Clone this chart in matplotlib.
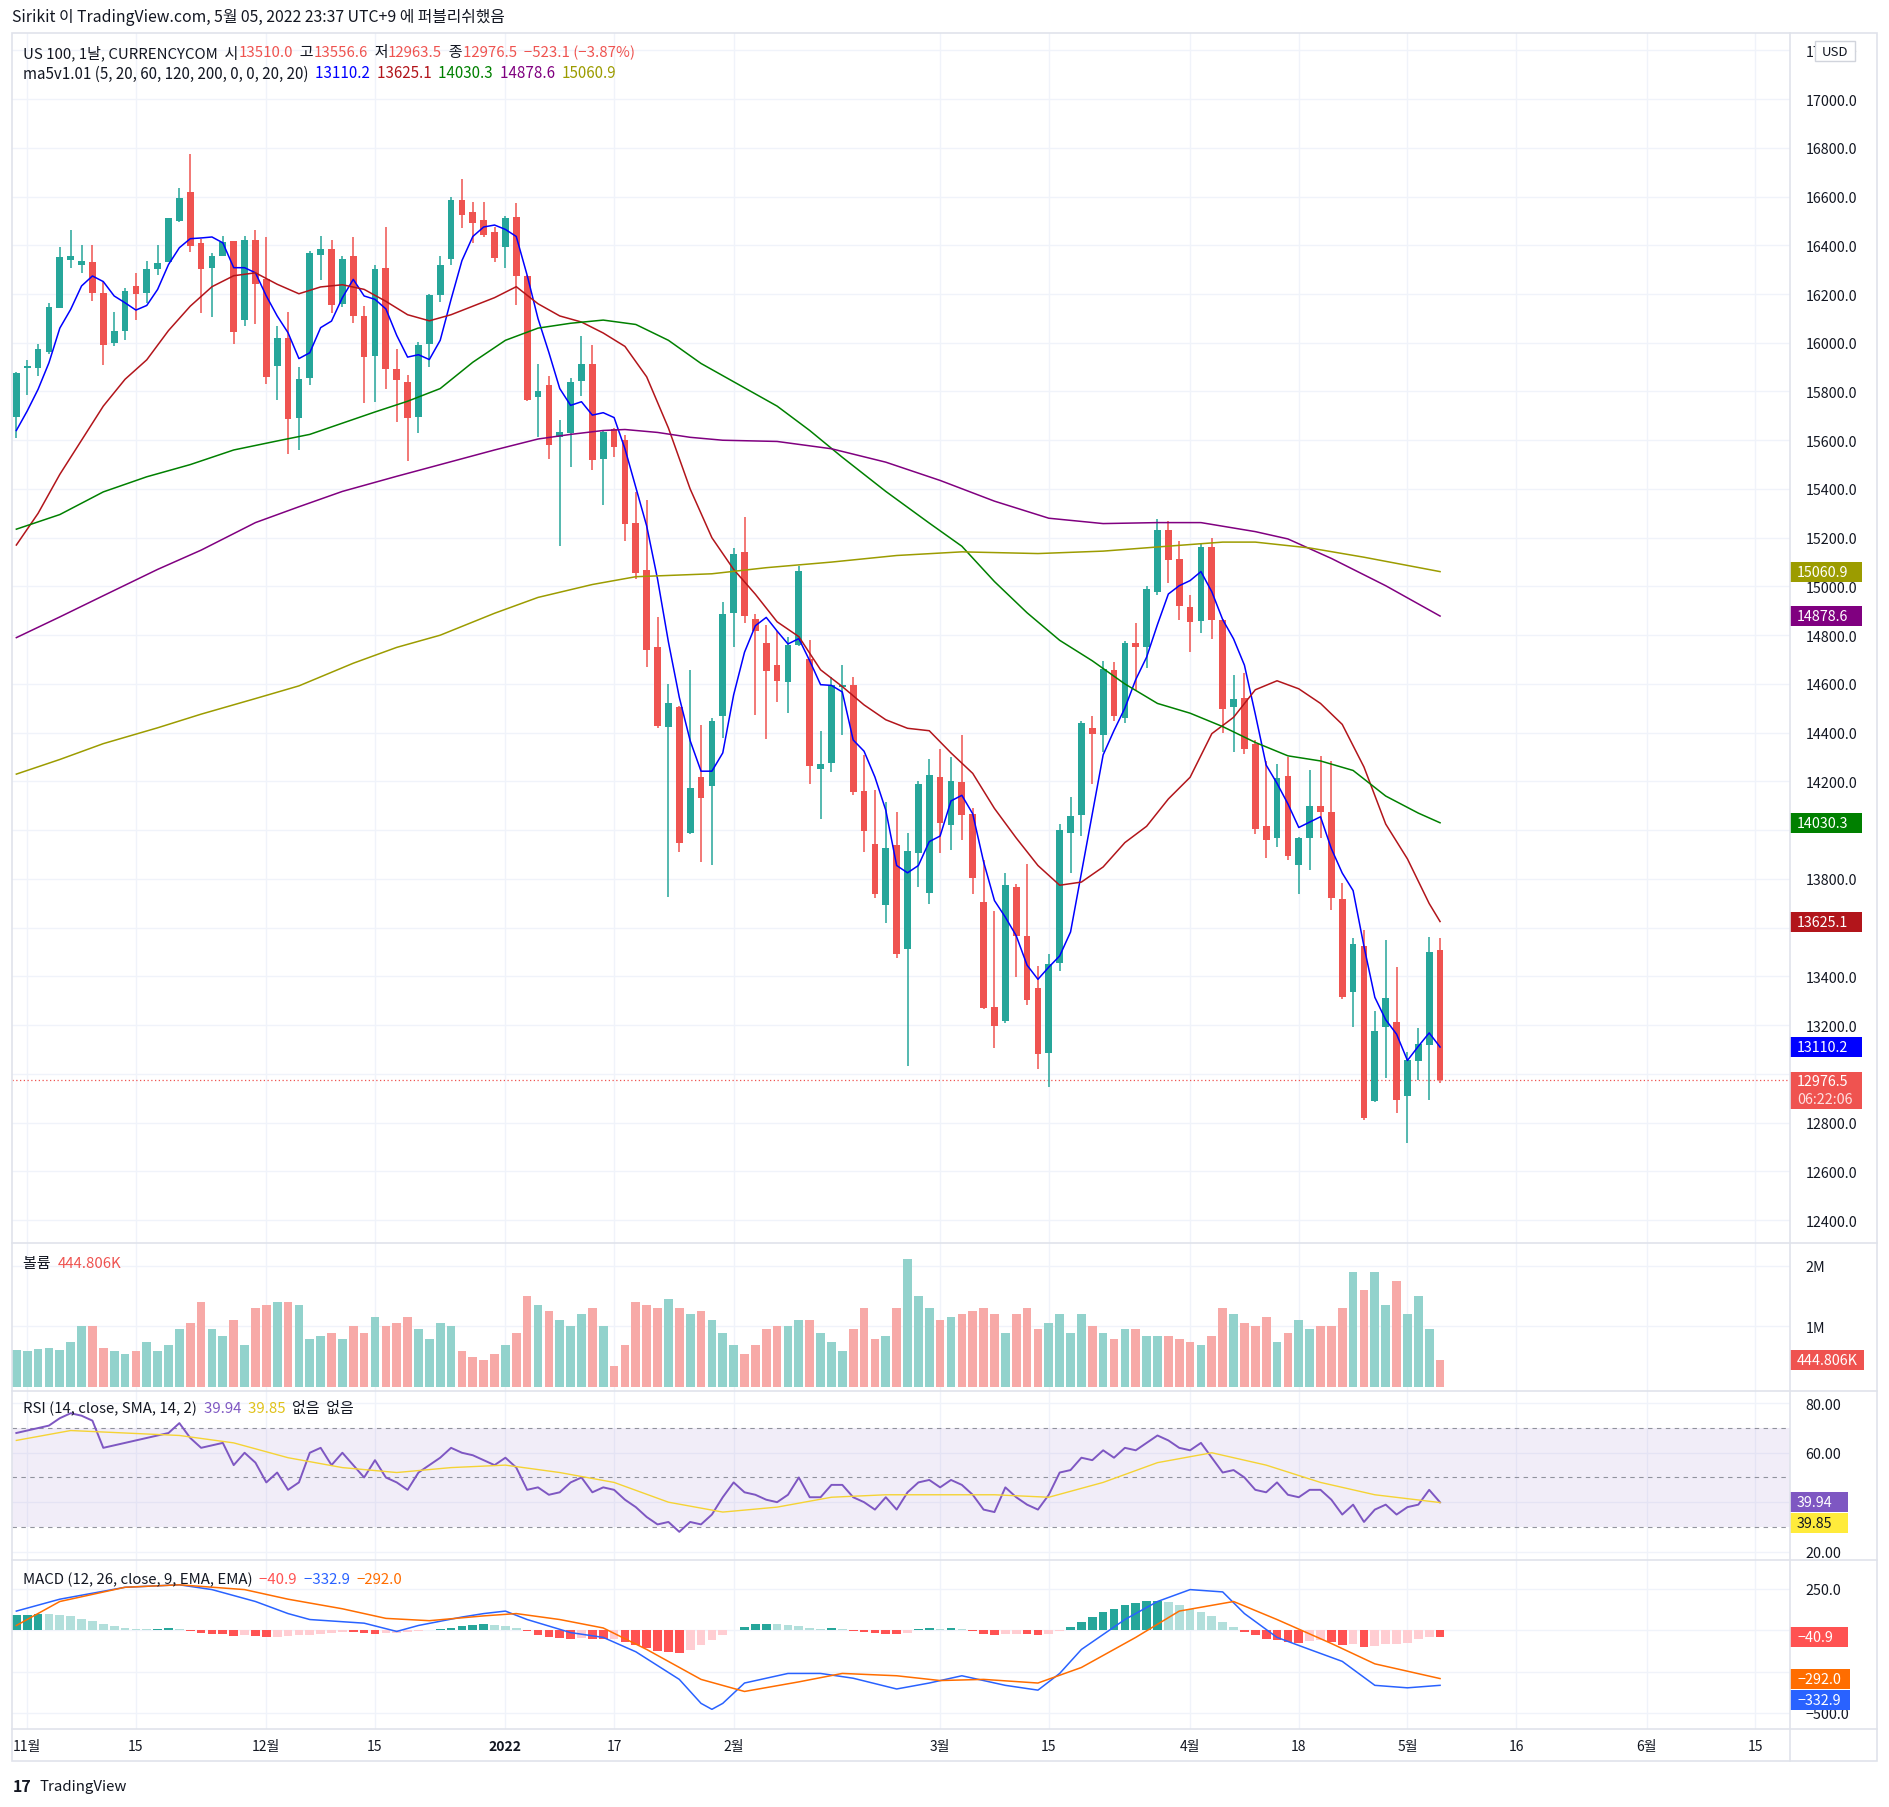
import matplotlib.pyplot as plt
import numpy as np
from matplotlib.patches import Rectangle

plt.rcParams['font.family'] = ['Noto Sans CJK KR', 'DejaVu Sans']

W, H = 1890, 1808
UP, DOWN = '#26a69a', '#ef5350'
VOL_UP, VOL_DOWN = '#92d2cc', '#f7a9a7'
TXT = '#131722'
GRID = '#f0f3fa'
BORDER = '#e0e3eb'

# daily candles, index 0 = 2021-10-29 ... 131 = 2022-05-05
opens = [15695, 15896, 15896, 15962, 16142, 16339, 16319, 16330, 16203, 15999,
         16048, 16231, 16204, 16302, 16330, 16498, 16617, 16408, 16305, 16358,
         16416, 16093, 16420, 16260, 15905, 16018, 15691, 15855, 16360, 16383,
         16159, 16354, 16108, 15946, 16305, 15891, 15838, 15695, 15994, 16196,
         16345, 16584, 16537, 16503, 16453, 16394, 16515, 16275, 15778, 15826,
         15614, 15630, 15842, 15911, 15525, 15648, 15600, 15262, 15066, 14751,
         14422, 14507, 13988, 14218, 14182, 14470, 14893, 15141, 14865, 14767,
         14677, 14609, 14759, 14702, 14252, 14277, 14586, 14597, 14161, 13944,
         13691, 13940, 13511, 13905, 13741, 14218, 14023, 14197, 14067, 13706,
         13276, 13215, 13767, 13567, 13352, 13087, 13453, 13990, 14064, 14421,
         14391, 14657, 14461, 14770, 14750, 14976, 15233, 15111, 14917, 14859,
         15163, 14861, 14506, 14541, 14352, 14016, 13966, 14222, 13859, 13966,
         14098, 14075, 13719, 13334, 13525, 12888, 13194, 13212, 12909, 13053,
         13118, 13510.0]
highs = [15880, 15929, 15993, 16162, 16391, 16461, 16402, 16402, 16249, 16125,
         16223, 16285, 16334, 16402, 16513, 16633, 16773, 16427, 16369, 16440,
         16416, 16440, 16461, 16432, 16067, 16126, 15899, 16375, 16436, 16420,
         16354, 16432, 16151, 16317, 16475, 15976, 15867, 16004, 16200, 16356,
         16598, 16673, 16578, 16578, 16477, 16521, 16574, 16280, 15911, 15865,
         15681, 15854, 16026, 15992, 15640, 15652, 15622, 15386, 15353, 14875,
         14600, 14510, 14658, 14432, 14460, 14937, 15157, 15283, 14885, 14841,
         14817, 14791, 15082, 14779, 14406, 14627, 14677, 14627, 14309, 14165,
         14115, 14073, 13988, 14203, 14294, 14333, 14300, 14392, 14090, 13877,
         13670, 13824, 13779, 13862, 13444, 13491, 14027, 14137, 14447, 14470,
         14696, 14688, 14777, 14849, 15003, 15275, 15270, 15187, 14966, 15178,
         15200, 14865, 14635, 14643, 14369, 14284, 14270, 14299, 13970, 14245,
         14304, 14285, 13784, 13556, 13590, 13259, 13550, 13439, 13088, 13189,
         13560, 13556.6]
lows = [15611, 15784, 15864, 15952, 16142, 16306, 16287, 16171, 15909, 15987,
        16010, 16093, 16164, 16276, 16330, 16494, 16372, 16121, 16106, 16358,
        15995, 16069, 16077, 15831, 15765, 15545, 15560, 15827, 16257, 16122,
        16147, 16081, 15753, 15757, 15810, 15673, 15515, 15628, 15901, 16166,
        16321, 16471, 16408, 16432, 16331, 16307, 16155, 15760, 15614, 15525,
        15168, 15491, 15780, 15479, 15333, 15531, 15188, 15030, 14668, 14420,
        13727, 13911, 13985, 13870, 13856, 14380, 14753, 14848, 14473, 14376,
        14526, 14480, 14756, 14191, 14044, 14237, 14391, 14143, 13911, 13723,
        13621, 13476, 13032, 13767, 13696, 13908, 13920, 13961, 13737, 13268,
        13105, 13209, 13397, 13282, 13021, 12946, 13424, 13824, 13976, 14191,
        14321, 14448, 14441, 14576, 14667, 14964, 15016, 14862, 14732, 14807,
        14784, 14399, 14322, 14314, 13986, 13886, 13929, 13879, 13737, 13836,
        13966, 13673, 13306, 13192, 12811, 12885, 12981, 12841, 12717, 12975,
        12893, 12963.5]
closes = [15877, 15904, 15973, 16145, 16350, 16354, 16334, 16204, 15991, 16047,
          16211, 16200, 16301, 16326, 16510, 16592, 16399, 16302, 16358, 16412,
          16044, 16420, 16241, 15859, 16018, 15687, 15850, 16367, 16383, 16155,
          16342, 16110, 15942, 16301, 15892, 15846, 15693, 15992, 16196, 16319,
          16584, 16525, 16493, 16444, 16347, 16511, 16273, 15766, 15804, 15582,
          15632, 15838, 15911, 15517, 15634, 15574, 15256, 15054, 14741, 14426,
          14523, 13947, 14171, 14131, 14448, 14885, 15133, 14879, 14818, 14653,
          14612, 14761, 15065, 14265, 14271, 14596, 14597, 14158, 13997, 13737,
          13927, 13491, 13915, 14191, 14226, 14030, 14202, 14064, 13802, 13270,
          13196, 13776, 13567, 13302, 13082, 13449, 14002, 14058, 14441, 14396,
          14660, 14469, 14770, 14752, 14988, 15232, 15108, 14919, 14854, 15163,
          14862, 14498, 14538, 14331, 14003, 13958, 14214, 13896, 13966, 14098,
          14073, 13720, 13317, 13533, 12819, 13177, 13311, 12894, 13058, 13122,
          13500, 12976.5]

# volume in millions
volume_m = [0.62, 0.60, 0.63, 0.65, 0.62, 0.75, 1.00, 1.00, 0.65, 0.60,
            0.55, 0.60, 0.75, 0.60, 0.70, 0.95, 1.05, 1.40, 0.95, 0.85,
            1.10, 0.70, 1.30, 1.35, 1.40, 1.40, 1.35, 0.80, 0.85, 0.90,
            0.80, 1.00, 0.90, 1.15, 1.00, 1.05, 1.15, 0.95, 0.80, 1.05,
            1.00, 0.60, 0.50, 0.45, 0.55, 0.70, 0.90, 1.50, 1.35, 1.25,
            1.10, 1.00, 1.20, 1.30, 1.00, 0.35, 0.70, 1.40, 1.35, 1.30,
            1.45, 1.30, 1.20, 1.25, 1.10, 0.90, 0.70, 0.55, 0.70, 0.95,
            1.00, 1.00, 1.10, 1.10, 0.90, 0.75, 0.60, 0.95, 1.30, 0.80,
            0.85, 1.30, 2.10, 1.50, 1.30, 1.10, 1.15, 1.20, 1.25, 1.30,
            1.20, 0.90, 1.20, 1.30, 0.95, 1.05, 1.20, 0.90, 1.20, 1.00,
            0.90, 0.80, 0.95, 0.95, 0.85, 0.85, 0.85, 0.80, 0.75, 0.70,
            0.85, 1.30, 1.20, 1.05, 1.00, 1.15, 0.75, 0.90, 1.10, 0.95,
            1.00, 1.00, 1.30, 1.90, 1.60, 1.90, 1.35, 1.75, 1.20, 1.50,
            0.95, 0.445]

ma5 = [15640, 15720, 15809, 15918, 16060, 16137, 16233, 16274, 16251, 16192,
       16164, 16134, 16153, 16219, 16321, 16390, 16427, 16430, 16434, 16410,
       16308, 16308, 16287, 16192, 16110, 16041, 15935, 15959, 16062, 16089,
       16185, 16260, 16192, 16178, 16139, 16030, 15941, 15951, 15931, 16010,
       16178, 16337, 16436, 16475, 16483, 16465, 16436, 16277, 16099, 15960,
       15812, 15743, 15758, 15703, 15713, 15693, 15565, 15406, 15248, 15030,
       14772, 14545, 14367, 14242, 14242, 14317, 14555, 14730, 14839, 14873,
       14817, 14764, 14786, 14695, 14597, 14594, 14567, 14370, 14324, 14218,
       14082, 13855, 13825, 13855, 13953, 13976, 14120, 14143, 14067, 13870,
       13711, 13643, 13567, 13446, 13388, 13438, 13484, 13582, 13825, 14067,
       14309, 14409, 14501, 14618, 14710, 14844, 14969, 15003, 15024, 15061,
       14978, 14864, 14785, 14677, 14476, 14267, 14192, 14108, 14011, 14033,
       14055, 13924, 13824, 13752, 13523, 13314, 13222, 13163, 13055, 13113,
       13168, 13110.2]

ma20_idx = [0, 2, 4, 6, 8, 10, 12, 14, 16, 18, 20, 22, 24, 26, 28, 30, 32, 34,
            36, 38, 40, 42, 44, 46, 48, 50, 52, 54, 56, 58, 60, 62, 64, 66, 68,
            70, 72, 74, 76, 78, 80, 82, 84, 86, 88, 90, 92, 94, 96, 98, 100,
            102, 104, 106, 108, 110, 112, 114, 116, 118, 120, 122, 124, 126,
            128, 130, 131]
ma20_val = [15170, 15300, 15460, 15600, 15740, 15850, 15930, 16050, 16150,
            16230, 16275, 16287, 16240, 16201, 16229, 16238, 16219, 16170,
            16115, 16090, 16115, 16150, 16185, 16230, 16160, 16110, 16085,
            16040, 15985, 15860, 15650, 15400, 15200, 15070, 14968, 14855,
            14794, 14658, 14589, 14514, 14453, 14418, 14408, 14317, 14233,
            14089, 13968, 13855, 13774, 13787, 13849, 13949, 14016, 14128,
            14217, 14396, 14463, 14576, 14613, 14580, 14520, 14434, 14259,
            14025, 13882, 13699, 13625.1]

ma60_idx = [0, 4, 8, 12, 16, 20, 24, 27, 30, 33, 36, 39, 42, 45, 48, 51, 54,
            57, 60, 63, 66, 70, 73, 76, 80, 84, 87, 90, 93, 96, 99, 102, 105,
            108, 111, 114, 117, 120, 123, 126, 129, 131]
ma60_val = [15235, 15295, 15388, 15450, 15500, 15560, 15597, 15624, 15670,
            15716, 15760, 15812, 15920, 16010, 16060, 16080, 16093, 16075,
            16010, 15915, 15840, 15740, 15640, 15530, 15390, 15260, 15165,
            15020, 14892, 14779, 14695, 14600, 14520, 14480, 14425, 14360,
            14305, 14284, 14245, 14140, 14070, 14030.3]

ma120_idx = [0, 4, 8, 13, 17, 22, 26, 30, 35, 39, 44, 48, 51, 54, 56, 59, 62,
             65, 70, 75, 80, 85, 90, 95, 100, 105, 109, 114, 117, 121, 126, 131]
ma120_val = [14790, 14875, 14962, 15070, 15149, 15262, 15327, 15390, 15452,
             15500, 15560, 15605, 15624, 15640, 15644, 15632, 15612, 15600,
             15595, 15565, 15510, 15435, 15350, 15280, 15258, 15262, 15262,
             15225, 15195, 15115, 15003, 14878.6]

ma200_idx = [0, 4, 8, 13, 17, 22, 26, 31, 35, 39, 44, 48, 53, 57, 64, 69, 75,
             81, 87, 94, 100, 105, 111, 114, 119, 124, 131]
ma200_val = [14230, 14290, 14355, 14420, 14476, 14540, 14592, 14685, 14750,
             14800, 14890, 14955, 15008, 15040, 15052, 15077, 15100, 15127,
             15142, 15135, 15145, 15162, 15182, 15182, 15158, 15120, 15060.9]

rsi_idx = list(range(132))
rsi_val = [68, 69, 70, 71, 74, 76, 75, 73, 62, 63, 64, 65, 66, 67, 68, 72, 66,
           62, 63, 64, 55, 60, 56, 48, 52, 45, 48, 60, 62, 55, 60, 55, 50, 57,
           50, 48, 45, 52, 55, 58, 62, 60, 59, 57, 55, 58, 54, 45, 46, 43, 44,
           48, 50, 44, 46, 45, 41, 38, 34, 31, 32, 28, 32, 31, 35, 42, 48, 44,
           43, 41, 40, 43, 50, 42, 42, 47, 47, 42, 40, 37, 42, 37, 44, 48, 49,
           46, 49, 47, 43, 37, 36, 46, 42, 39, 37, 43, 52, 53, 58, 57, 61, 58,
           62, 61, 64, 67, 65, 62, 61, 64, 58, 52, 53, 50, 45, 44, 48, 43, 42,
           45, 45, 41, 35, 39, 32, 37, 39, 35, 38, 39, 45, 39.94]
rsi_ma_idx = [0, 5, 10, 15, 20, 25, 30, 35, 40, 45, 50, 55, 60, 65, 70, 75,
              80, 85, 90, 95, 100, 105, 110, 115, 120, 125, 131]
rsi_ma_val = [65, 69, 68, 67, 64, 58, 54, 52, 54, 55, 52, 48, 40, 36, 38, 42,
              43, 43, 43, 42, 48, 56, 60, 55, 48, 43, 39.85]

macd_idx = [0, 4, 10, 15, 18, 22, 25, 27, 32, 35, 37, 41, 43, 45, 47, 51, 54,
            57, 61, 63, 64, 65, 67, 71, 74, 77, 81, 84, 87, 91, 94, 96, 98,
            102, 105, 108, 111, 113, 116, 119, 122, 125, 128, 131]
macd_val = [116, 188, 260, 275, 246, 174, 101, 65, 43, -7, 29, 80, 101, 116,
            65, -14, -43, -130, -297, -442, -478, -442, -319, -261, -261,
            -290, -355, -319, -275, -333, -362, -261, -116, 65, 174, 246, 232,
            101, -43, -116, -188, -333, -348, -332.9]
signal_idx = [0, 4, 10, 15, 21, 25, 30, 34, 38, 43, 46, 50, 54, 58, 63, 67,
              72, 76, 81, 85, 89, 94, 98, 103, 107, 112, 116, 121, 125, 131]
signal_val = [29, 174, 260, 275, 246, 188, 130, 72, 58, 87, 101, 65, 14,
              -116, -297, -370, -312, -261, -275, -304, -297, -319, -225, -43,
              116, 174, 65, -80, -203, -292.0]
hist = [90, 95, 100, 98, 95, 85, 70, 55, 40, 25,
        15, 8, 5, 10, 12, 5, -5, -15, -20, -25,
        -35, -30, -35, -40, -38, -35, -30, -28, -20, -15,
        -10, -12, -15, -20, -18, -15, -10, -5, 0, 5,
        15, 25, 30, 35, 30, 25, 15, -5, -30, -40,
        -45, -50, -45, -50, -55, -55, -70, -90, -110, -125,
        -130, -140, -120, -90, -60, -30, 0, 20, 35, 40,
        38, 30, 28, 15, 10, 12, 8, -5, -10, -15,
        -20, -25, -15, 5, 12, 10, 15, 10, -5, -20,
        -30, -20, -20, -25, -30, -25, -5, 20, 50, 80,
        110, 130, 150, 165, 175, 180, 170, 150, 130, 110,
        85, 50, 20, -10, -30, -55, -60, -70, -75, -65,
        -60, -70, -90, -85, -100, -95, -80, -80, -75, -55,
        -40, -40.9]

xtick_idx = [1, 11, 23, 33, 45, 55, 66, 85, 95, 108, 118, 128, 138, 150, 160]
xtick_lbl = ['11월', '15', '12월', '15', '2022', '17', '2월', '3월', '15', '4월',
             '18', '5월', '16', '6월', '15']

XLIM = (-0.4, 163.2)
PANES = {  # top px, bottom px, ymin, ymax
    'main': (34, 1244, 12306, 17271),
    'vol': (1244, 1392, -0.06, 2.37),
    'rsi': (1392, 1561, 16.6, 85.0),
    'macd': (1561, 1730, -597, 425),
}

fig = plt.figure(figsize=(W / 100, H / 100), dpi=100)


def make_pane(name):
    top, bot, lo, hi = PANES[name]
    ax = fig.add_axes([12 / W, 1 - bot / H, (1790 - 12) / W, (bot - top) / H])
    ax.set_xlim(*XLIM)
    ax.set_ylim(lo, hi)
    for s in ax.spines.values():
        s.set_visible(False)
    ax.yaxis.tick_right()
    ax.tick_params(axis='y', length=0, labelsize=10.3, labelcolor=TXT, pad=11)
    ax.tick_params(axis='x', length=0, labelbottom=False)
    ax.set_xticks(xtick_idx)
    ax.grid(True, color=GRID, lw=1)
    ax.set_axisbelow(True)
    return ax


x = np.arange(len(closes))
o, h, l, c = map(np.array, (opens, highs, lows, closes))
col = np.where(c >= o, UP, DOWN)

# ---- price pane
ax = make_pane('main')
ax.vlines(x, l, h, colors=col, lw=1.1, zorder=2)
body = np.maximum(np.abs(c - o), 5)
ax.bar(x, body, bottom=np.minimum(o, c), width=0.62, color=col, zorder=3)
ax.plot(x, ma5, color='#0000ff', lw=1.1, zorder=4)
ax.plot(ma20_idx, ma20_val, color='#b2151b', lw=1.1, zorder=4)
ax.plot(ma60_idx, ma60_val, color='#008000', lw=1.1, zorder=4)
ax.plot(ma120_idx, ma120_val, color='#800080', lw=1.1, zorder=4)
ax.plot(ma200_idx, ma200_val, color='#9c9c00', lw=1.1, zorder=4)
ax.axhline(closes[-1], color=DOWN, lw=0.9, ls=(0, (1, 2)), zorder=1)
pt = np.arange(12400, 17201, 200)
ax.set_yticks(pt)
# labels hidden behind the value badges are left blank
ax.set_yticklabels(['' if v in (13000, 13600, 14000) else f'{v:.1f}' for v in pt])

# ---- volume pane
axv = make_pane('vol')
axv.bar(x, volume_m, width=0.8, color=np.where(c >= o, VOL_UP, VOL_DOWN))
axv.set_yticks([1, 2])
axv.set_yticklabels(['1M', '2M'])

# ---- RSI pane
axr = make_pane('rsi')
axr.axhspan(30, 70, color='#7e57c2', alpha=0.1, lw=0)
for lv in (70, 50, 30):
    axr.axhline(lv, color='#787b86', lw=0.8, ls=(0, (4, 4)), alpha=0.8)
axr.plot(rsi_idx, rsi_val, color='#7e57c2', lw=1.4)
axr.plot(rsi_ma_idx, rsi_ma_val, color='#f5d334', lw=1.0)
axr.set_yticks([20, 40, 60, 80])
axr.set_yticklabels(['20.00', '', '60.00', '80.00'])

# ---- MACD pane
axm = make_pane('macd')
hv = np.array(hist)
prev = np.concatenate([[hv[0]], hv[:-1]])
hcol = np.where(hv >= 0, np.where(hv >= prev, '#26a69a', '#b2dfdb'),
                np.where(hv >= prev, '#ffcdd2', '#ff5252'))
axm.bar(x, hv, width=0.8, color=hcol)
axm.plot(macd_idx, macd_val, color='#2962ff', lw=1.1)
axm.plot(signal_idx, signal_val, color='#ff6d00', lw=1.1)
axm.set_yticks([-500, -250, 0, 250])
axm.set_yticklabels(['\u2212500.0', '', '', '250.0'])
axm.tick_params(axis='x', labelbottom=True, labelsize=10, labelcolor=TXT, pad=7)
axm.set_xticklabels(xtick_lbl)
for t in axm.get_xticklabels():
    if t.get_text() == '2022':
        t.set_fontweight('bold')

# ---- overlay: borders, legends, badges
ov = fig.add_axes([0, 0, 1, 1], zorder=10)
ov.set_xlim(0, W)
ov.set_ylim(H, 0)
ov.set_axis_off()
ov.patch.set_alpha(0)
ov.add_patch(Rectangle((12, 34), 1865, 1728, fill=False, ec=BORDER, lw=1.2))
ov.plot([1790, 1790], [34, 1762], color=BORDER, lw=1.2)
for yy in (1244, 1392, 1561, 1730):
    ov.plot([12, 1877], [yy, yy], color=BORDER, lw=1.2)

rend = fig.canvas.get_renderer()


def seq_text(x0, y0, parts, size=11, weight='normal'):
    for s, cc in parts:
        t = ov.text(x0, y0, s, color=cc, fontsize=size, va='center', ha='left',
                    fontweight=weight)
        x0 += t.get_window_extent(rend).width


seq_text(12, 18, [('Sirikit 이 TradingView.com, 5월 05, 2022 23:37 UTC+9 에 퍼블리쉬했음', TXT)], 11.4)
seq_text(23, 53, [('US 100, 1날, CURRENCYCOM  시', TXT), ('13510.0', DOWN),
                  ('  고', TXT), ('13556.6', DOWN), ('  저', TXT), ('12963.5', DOWN),
                  ('  종', TXT), ('12976.5  \u2212523.1 (\u22123.87%)', DOWN)], 10.8)
seq_text(23, 74, [('ma5v1.01 (5, 20, 60, 120, 200, 0, 0, 20, 20)  ', TXT),
                  ('13110.2  ', '#0000ff'), ('13625.1  ', '#b2151b'),
                  ('14030.3  ', '#008000'), ('14878.6  ', '#800080'),
                  ('15060.9', '#9c9c00')], 10.9)
seq_text(23, 1264, [('볼륨  ', TXT), ('444.806K', DOWN)], 10.8)
seq_text(23, 1409, [('RSI (14, close, SMA, 14, 2)  ', TXT), ('39.94  ', '#7e57c2'),
                    ('39.85  ', '#e0c21a'), ('없음  없음', TXT)], 10.8)
seq_text(23, 1580, [('MACD (12, 26, close, 9, EMA, EMA)  ', TXT),
                    ('\u221240.9  ', '#ff5252'), ('\u2212332.9  ', '#2962ff'),
                    ('\u2212292.0', '#ff6d00')], 10.8)
seq_text(13, 1787, [('17', TXT)], 11.5, 'heavy')
seq_text(40, 1787, [('TradingView', TXT)], 10.8)


def ypix(name, v):
    top, bot, lo, hi = PANES[name]
    return top + (hi - v) / (hi - lo) * (bot - top)


def badge_at(y, label, fc, tc='white', w=72):
    ov.add_patch(Rectangle((1790, y - 10), w, 20, fc=fc, ec='none'))
    ov.text(1797, y, label, color=tc, fontsize=10.3, va='center', ha='left')


def badge(name, v, label, fc, tc='white', w=72):
    badge_at(ypix(name, v), label, fc, tc, w)


# USD box
ov.add_patch(Rectangle((1815, 42), 40, 20, fc='white', ec='#d1d4dc', lw=1))
ov.text(1835, 52, 'USD', color=TXT, fontsize=9.5, va='center', ha='center')

badge('main', 15060.9, '15060.9', '#9c9c00')
badge('main', 14878.6, '14878.6', '#800080')
badge('main', 14030.3, '14030.3', '#008000')
badge('main', 13625.1, '13625.1', '#b2151b')
badge('main', 13110.2, '13110.2', '#0000ff')
yl = ypix('main', 12976.5)
ov.add_patch(Rectangle((1790, yl - 8), 72, 37, fc=DOWN, ec='none'))
ov.text(1797, yl + 1, '12976.5', color='white', fontsize=10.3, va='center')
ov.text(1797, yl + 19, '06:22:06', color='#fde0e0', fontsize=10.3, va='center')
badge('vol', 0.4448, '444.806K', DOWN, w=74)
y_rsi = ypix('rsi', 39.94)
badge_at(y_rsi, '39.94', '#7e57c2', w=58)
badge_at(y_rsi + 21, '39.85', '#ffeb3b', tc=TXT, w=58)
badge('macd', -40.9, '\u221240.9', '#ff5252', w=58)
y_sig = ypix('macd', -292.0)
badge_at(y_sig, '\u2212292.0', '#ff6d00', w=60)
badge_at(y_sig + 21, '\u2212332.9', '#2962ff', w=60)

fig.savefig('out.png', dpi=100, facecolor='white')
